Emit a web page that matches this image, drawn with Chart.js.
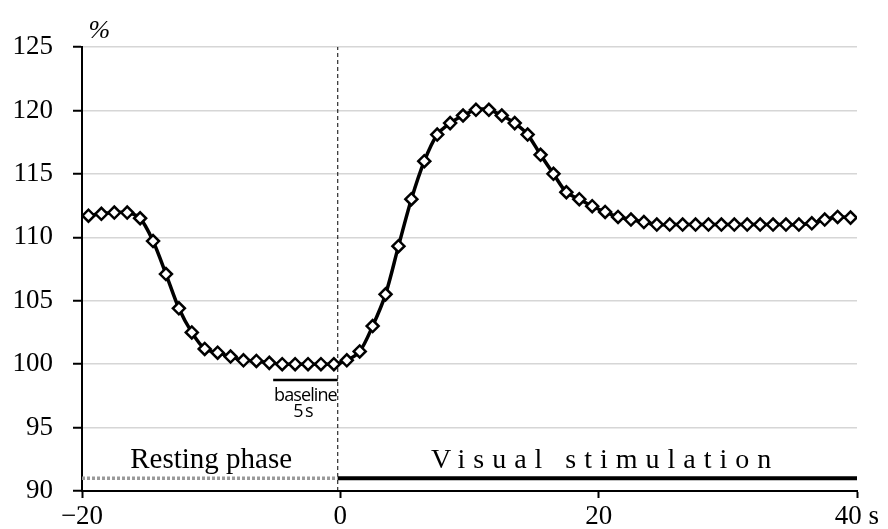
<!DOCTYPE html>
<html>
<head>
<meta charset="utf-8">
<title>Response curve</title>
<script src="https://cdn.jsdelivr.net/npm/chart.js@4.4.1/dist/chart.umd.min.js"></script>
<style>
    html, body { margin: 0; padding: 0; background: #fff; }
    canvas { display: block; }
</style>
</head>
<body>
<canvas id="chart" width="888" height="529"></canvas>
<script>
// Sample times (s), one per second, centred between ticks
const times = [
    -19.5, -18.5, -17.5, -16.5, -15.5, -14.5, -13.5, -12.5, -11.5, -10.5,
    -9.5, -8.5, -7.5, -6.5, -5.5, -4.5, -3.5, -2.5, -1.5, -0.5,
    0.5, 1.5, 2.5, 3.5, 4.5, 5.5, 6.5, 7.5, 8.5, 9.5,
    10.5, 11.5, 12.5, 13.5, 14.5, 15.5, 16.5, 17.5, 18.5, 19.5,
    20.5, 21.5, 22.5, 23.5, 24.5, 25.5, 26.5, 27.5, 28.5, 29.5,
    30.5, 31.5, 32.5, 33.5, 34.5, 35.5, 36.5, 37.5, 38.5, 39.5
];

// Signal relative to baseline (%)
const signal = [
    111.7, 111.85, 111.95, 111.95, 111.5, 109.7, 107.1, 104.4, 102.5, 101.2,
    100.9, 100.6, 100.3, 100.25, 100.1, 100.0, 100.0, 100.0, 100.0, 100.0,
    100.3, 101.0, 103.0, 105.5, 109.3, 113.0, 116.0, 118.1, 119.0, 119.6,
    120.05, 120.05, 119.6, 119.0, 118.1, 116.5, 115.0, 113.55, 113.0, 112.45,
    112.0, 111.6, 111.4, 111.2, 111.0, 111.0, 111.0, 111.0, 111.0, 111.0,
    111.0, 111.0, 111.0, 111.0, 111.0, 111.0, 111.1, 111.4, 111.6, 111.55
];

// Axis ticks
const xTicks = [-20, 0, 20, 40];
const yTicks = [90, 95, 100, 105, 110, 115, 120, 125];

// Phase markers
const stimOnset = -0.2;
const restingPhase = [-20, -0.2];
const stimulationPhase = [-0.2, 40];
const phaseLevel = 91.0;
const baselineWindow = [-5.2, -0.2];
const baselineLevel = 98.75;

const points = times.map((t, i) => ({ x: t, y: signal[i] }));

function segment(xs, level) {
    return xs.map(v => ({ x: v, y: level }));
}

// Texts drawn on top, positioned through the scales
const textPlugin = {
    id: 'phaseText',
    afterDatasetsDraw(chart) {
        const { ctx, scales: { x, y } } = chart;
        ctx.save();
        ctx.fillStyle = '#000';
        ctx.textBaseline = 'alphabetic';

        ctx.textAlign = 'center';
        ctx.font = '29px "Liberation Serif"';
        ctx.fillText('Resting phase', x.getPixelForValue(-10), y.getPixelForValue(91.8));

        ctx.font = '28px "Liberation Serif"';
        ctx.letterSpacing = '8px';
        ctx.fillText('Visual stimulation', x.getPixelForValue(20.5), y.getPixelForValue(91.8));
        ctx.letterSpacing = '0px';

        ctx.font = '18px "Open Sans"';
        ctx.letterSpacing = '-0.9px';
        ctx.fillText('baseline', x.getPixelForValue(-2.7), y.getPixelForValue(97.1));
        ctx.letterSpacing = '1.5px';
        ctx.fillText('5s', x.getPixelForValue(-2.8), y.getPixelForValue(95.83));
        ctx.letterSpacing = '0px';

        ctx.textAlign = 'left';
        ctx.font = 'italic 26px "Liberation Serif"';
        ctx.fillText('%', x.getPixelForValue(-19.5), y.getPixelForValue(125.7));
        ctx.restore();
    }
};

new Chart(document.getElementById('chart'), {
    type: 'line',
    data: {
        datasets: [
            {
                data: points,
                borderColor: '#000',
                borderWidth: 3.5,
                tension: 0.3,
                pointStyle: 'rectRot',
                pointRadius: 6,
                pointBackgroundColor: '#fff',
                pointBorderColor: '#000',
                pointBorderWidth: 2.5,
                order: 0
            },
            {
                data: segment(restingPhase, phaseLevel),
                borderColor: '#9a9a9a',
                borderWidth: 3.5,
                borderDash: [3, 2],
                pointRadius: 0,
                order: 1
            },
            {
                data: segment(stimulationPhase, phaseLevel),
                borderColor: '#000',
                borderWidth: 4,
                pointRadius: 0,
                order: 1
            },
            {
                data: segment(baselineWindow, baselineLevel),
                borderColor: '#000',
                borderWidth: 2.5,
                pointRadius: 0,
                order: 1
            },
            {
                data: [{ x: stimOnset, y: 90 }, { x: stimOnset, y: 125 }],
                borderColor: '#000',
                borderWidth: 1,
                borderDash: [4, 3],
                pointRadius: 0,
                order: 1
            }
        ]
    },
    options: {
        responsive: false,
        animation: false,
        layout: { padding: { left: 0, right: 31, top: 47, bottom: 0 } },
        plugins: {
            legend: { display: false },
            tooltip: { enabled: false }
        },
        scales: {
            x: {
                type: 'linear',
                min: -20,
                max: 40,
                afterFit(scale) { scale.height = 38; },
                afterBuildTicks(scale) { scale.ticks = xTicks.map(v => ({ value: v })); },
                grid: {
                    drawOnChartArea: false,
                    tickColor: '#000',
                    tickLength: 7,
                    tickWidth: 2
                },
                border: { color: '#000', width: 2 },
                ticks: {
                    color: '#000',
                    padding: 3,
                    maxRotation: 0,
                    font: { family: 'Liberation Serif', size: 27 },
                    callback: v => v === 40 ? '40 s' : (v < 0 ? '\u2212' + Math.abs(v) : String(v))
                }
            },
            y: {
                min: 90,
                max: 125,
                afterFit(scale) { scale.width = 82; },
                afterBuildTicks(scale) { scale.ticks = yTicks.map(v => ({ value: v })); },
                grid: {
                    color: '#d6d6d6',
                    lineWidth: 1.5,
                    tickColor: '#000',
                    tickLength: 9,
                    tickWidth: 2
                },
                border: { color: '#000', width: 2 },
                ticks: {
                    color: '#000',
                    padding: 20,
                    font: { family: 'Liberation Serif', size: 27 }
                }
            }
        }
    },
    plugins: [textPlugin]
});
</script>
</body>
</html>
